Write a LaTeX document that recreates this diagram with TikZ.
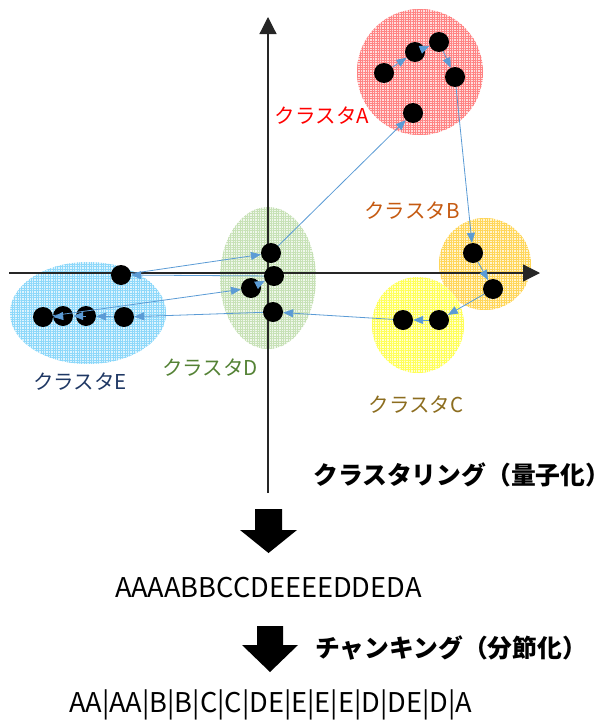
\documentclass[tikz,border=0pt]{standalone}
\usepackage{fontspec}
\setmainfont{Noto Sans CJK JP}
\usetikzlibrary{arrows.meta,patterns.meta}
\definecolor{lineblue}{HTML}{5B9BD5}
\definecolor{labA}{HTML}{FF0000}
\definecolor{labB}{HTML}{C55A11}
\definecolor{labC}{HTML}{8C6D1F}
\definecolor{labD}{HTML}{548235}
\definecolor{labE}{HTML}{1F3864}
\definecolor{patA}{HTML}{FF4040}
\definecolor{patB}{HTML}{FFC000}
\definecolor{patC}{HTML}{FFFF00}
\definecolor{patD}{HTML}{A9D18E}
\definecolor{patE}{HTML}{4FC3F7}
\newcommand\clusterpat[2]{%
  \fill[#1!18] #2;
  \fill[pattern={Lines[angle=0,distance=2.4pt,line width=0.45pt]},pattern color=#1!65] #2;
  \fill[pattern={Lines[angle=90,distance=2.4pt,line width=0.45pt]},pattern color=#1!65] #2;}
\begin{document}
\begin{tikzpicture}[x=1pt,y=-1pt,
  dot/.style={circle,fill=black,inner sep=0pt,minimum size=20pt},
  conn/.style={draw=lineblue,line width=0.8pt,-{Triangle[length=10pt,width=8pt]}},
  axisline/.style={draw=black!85,line width=1.2pt,-{Triangle[length=17pt,width=17pt]}},
  lbl/.style={font=\fontsize{20.5}{23}\selectfont,inner sep=0pt},
  headline/.style={font=\fontsize{24.8}{28}\selectfont\bfseries,inner sep=0pt},
  seqtext/.style={font=\fontsize{27.2}{30}\selectfont,inner sep=0pt},
  blockarrow/.style={fill=black}]
\useasboundingbox (0,0) rectangle (610,720);
% clusters
\clusterpat{patA}{(420,72) circle[radius=63pt]}
\clusterpat{patB}{(485,264) circle[radius=46pt]}
\clusterpat{patC}{(418,325) ellipse[x radius=46pt,y radius=48pt]}
\clusterpat{patD}{(268,278) ellipse[x radius=48pt,y radius=71pt]}
\clusterpat{patE}{(88,313) ellipse[x radius=78pt,y radius=51pt]}
% axes
\coordinate (xs) at (9,273);
\coordinate (xe) at (540,273);
\coordinate (ys) at (268,493);
\coordinate (ye) at (268,17);
\draw[axisline] (xs) -- (xe);
\draw[axisline] (ys) -- (ye);
% dots
\node[dot] (A1) at (384,73) {};
\node[dot] (A2) at (415,52) {};
\node[dot] (A3) at (439,42) {};
\node[dot] (A4) at (455,77) {};
\node[dot] (A5) at (413,113) {};
\node[dot] (B1) at (473,253) {};
\node[dot] (B2) at (493,289) {};
\node[dot] (C1) at (439,320) {};
\node[dot] (C2) at (403,320) {};
\node[dot] (D1) at (273,312) {};
\node[dot] (D2) at (251,288) {};
\node[dot] (D3) at (274,276) {};
\node[dot] (D4) at (271,253) {};
\node[dot] (E1) at (124,317) {};
\node[dot] (E2) at (86,316) {};
\node[dot] (E3) at (63,316) {};
\node[dot] (E4) at (43,317) {};
\node[dot] (E5) at (121,275) {};
% connectors
\draw[conn] (A1) -- (A2);
\draw[conn] (A2) -- (A3);
\draw[conn] (A3) -- (A4);
\draw[conn] (A4) -- (B1);
\draw[conn] (B1) -- (B2);
\draw[conn] (B2) -- (C1);
\draw[conn] (C1) -- (C2);
\draw[conn] (C2) -- (D1);
\draw[conn] (D1) -- (E1);
\draw[conn] (E1) -- (E2);
\draw[conn] (E2.center) -- (E3.east);
\draw[conn] (E3.center) -- (E4.east);
\draw[conn] (E4) -- (D2);
\draw[conn] (D2) -- (D3);
\draw[conn] (D3) -- (E5);
\draw[conn] (E5) -- (D4);
\draw[conn] (D4) -- (A5);
% labels
\node[lbl,text=labA] (LA) at (322,116) {クラスタA};
\node[lbl,text=labB] (LB) at (412,211) {クラスタB};
\node[lbl,text=labC] (LC) at (416,405) {クラスタC};
\node[lbl,text=labD] (LD) at (210,368) {クラスタD};
\node[lbl,text=labE] (LE) at (80,382) {クラスタE};
\node[headline,anchor=west] (H1) at (313,475) {クラスタリング（量子化）};
\node[headline,anchor=west] (H2) at (315,648) {チャンキング（分節化）};
\node[seqtext,anchor=base west] (S1) at (115,597) {AAAABBCCDEEEEDDEDA};
\node[seqtext,anchor=base west] (S2) at (69,712) {AA|AA|B|B|C|C|DE|E|E|E|D|DE|D|A};
% block arrows
\fill[blockarrow] (255,509) -- (282,509) -- (282,530) -- (297,530) -- (268.5,553) -- (240,530) -- (255,530) -- cycle;
\fill[blockarrow] (257,626) -- (283,626) -- (283,645) -- (298,645) -- (270,672) -- (242,645) -- (257,645) -- cycle;
\end{tikzpicture}
\end{document}
